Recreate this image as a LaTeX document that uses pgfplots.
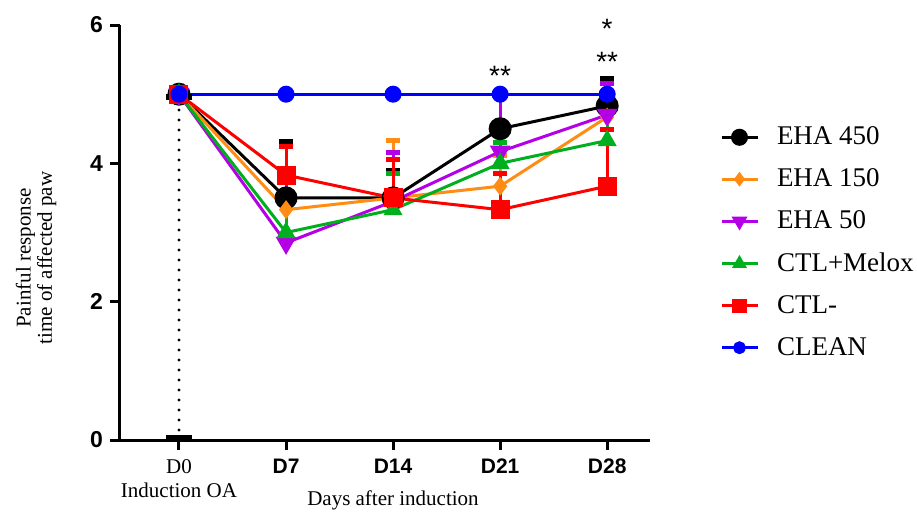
\documentclass[border=0pt]{standalone}
\usepackage{fontspec}
\setmainfont{Liberation Serif}
\newfontfamily\arial{Liberation Sans}
\usepackage{pgfplots}
\pgfplotsset{compat=1.18}
\definecolor{cOrange}{RGB}{255,140,20}
\definecolor{cPurple}{RGB}{180,0,230}
\definecolor{cGreen}{RGB}{0,175,30}
\definecolor{cRed}{RGB}{255,0,0}
\definecolor{cBlue}{RGB}{0,0,255}
\pgfplotstableread{
x y e
0 5.00 0.00
1 3.50 0.82
2 3.50 0.40
3 4.50 0.50
4 4.83 0.40
}\ehaA
\pgfplotstableread{
x y e
0 5.00 0.00
1 3.33 0.50
2 3.50 0.83
3 3.67 0.45
4 4.67 0.30
}\ehaB
\pgfplotstableread{
x y e
0 5.00 0.00
1 2.85 0.98
2 3.45 0.70
3 4.17 0.83
4 4.70 0.45
}\ehaC
\pgfplotstableread{
x y e
0 5.00 0.00
1 3.00 0.40
2 3.33 0.53
3 4.00 0.30
4 4.33 0.54
}\melox
\pgfplotstableread{
x y e
0 5.00 0.00
1 3.83 0.42
2 3.50 0.55
3 3.33 0.53
4 3.67 0.82
}\ctlm
\pgfplotstableread{
x y e
0 5.00 0.00
1 5.00 0.00
2 5.00 0.00
3 5.00 0.00
4 5.00 0.00
}\clean
\begin{document}
\begin{tikzpicture}
\useasboundingbox (-60pt,-35.5pt) rectangle (398.5pt,220pt);
\begin{axis}[
  scale only axis, width=265pt, height=207.5pt,
  xmin=-0.551, xmax=4.40, ymin=0, ymax=6,
  axis x line*=bottom, axis y line*=left,
  axis line style={line width=1.5pt,-},
  ytick={0,2,4,6}, yticklabels={0,2,4,6},
  yticklabel style={font=\arial\bfseries\fontsize{11.5}{13}\selectfont},
  xtick={0,1,2,3,4},
  xticklabels={{\fontsize{10.5}{11}\selectfont D0\\\fontsize{10.5}{11}\selectfont Induction OA},{\arial\bfseries D7},{\arial\bfseries D14},{\arial\bfseries D21},{\arial\bfseries D28}},
  xticklabel style={align=center, font=\fontsize{10.5}{12}\selectfont, yshift=-1pt},
  tick style={line width=1.5pt, black},
  major tick length=5pt, tick align=outside,
  clip=false,
  legend style={at={(axis description cs:1.12,0.775)}, anchor=north west, draw=none, fill=none,
    font=\fontsize{13.5}{16}\selectfont, row sep=6.5pt, column sep=7pt},
  legend cell align=left,
  legend image code/.code={\draw[mark repeat=2,mark phase=2, every mark/.append style={scale=0.7}] plot coordinates {(0pt,0pt)(9pt,0pt)(18pt,0pt)};},
  every axis plot/.append style={line width=1.5pt},
]
\addplot[black, dash pattern=on 0pt off 5pt, line cap=round, line width=1.6pt, forget plot] coordinates {(0,0) (0,5)};
\addplot[black, only marks, mark=-, mark size=6.7pt, mark options={line width=3pt}, forget plot] coordinates {(0,0.03) (0,4.96)};

\addplot[black, mark=*, mark size=5pt, error bars/.cd, y dir=plus, y explicit, error mark=|, error mark options={line width=2.5pt, mark size=3.5pt, black}, error bar style={line width=1.5pt}] table[x=x,y=y,y error=e] {\ehaA};
\addlegendentry{EHA 450}
\addplot[cOrange, mark=diamond*, mark size=3.5pt, error bars/.cd, y dir=plus, y explicit, error mark=|, error mark options={line width=2.5pt, mark size=3.5pt, cOrange}, error bar style={line width=1.5pt}] table[x=x,y=y,y error=e] {\ehaB};
\addlegendentry{EHA 150}
\addplot[cPurple, mark=triangle*, mark size=4.5pt, mark options={rotate=180}, error bars/.cd, y dir=plus, y explicit, error mark=|, error mark options={line width=2.5pt, mark size=3.5pt, cPurple}, error bar style={line width=1.5pt}] table[x=x,y=y,y error=e] {\ehaC};
\addlegendentry{EHA 50}
\addplot[cGreen, mark=triangle*, mark size=4pt, error bars/.cd, y dir=plus, y explicit, error mark=|, error mark options={line width=2.5pt, mark size=3.5pt, cGreen}, error bar style={line width=1.5pt}] table[x=x,y=y,y error=e] {\melox};
\addlegendentry{CTL+Melox}
\addplot[cRed, mark=square*, mark size=4pt, error bars/.cd, y dir=plus, y explicit, error mark=|, error mark options={line width=2.5pt, mark size=3.5pt, cRed}, error bar style={line width=1.5pt}] table[x=x,y=y,y error=e] {\ctlm};
\addlegendentry{CTL-}
\addplot[cBlue, mark=*, mark size=3.5pt] table[x=x,y=y] {\clean};
\addlegendentry{CLEAN}

\node[font=\arial\fontsize{14}{14}\selectfont] at (axis cs:3,5.26) {**};
\node[font=\arial\fontsize{14}{14}\selectfont] at (axis cs:4,5.46) {**};
\node[font=\arial\fontsize{14}{14}\selectfont] at (axis cs:4,5.95) {*};
\end{axis}
\node[rotate=90, align=center, font=\fontsize{10.5}{9.5}\selectfont] at (-42pt,91pt) {Painful response\\time of affected paw};
\node[font=\fontsize{10.5}{12}\selectfont] at (136.5pt,-30pt) {Days after induction};
\end{tikzpicture}
\end{document}
